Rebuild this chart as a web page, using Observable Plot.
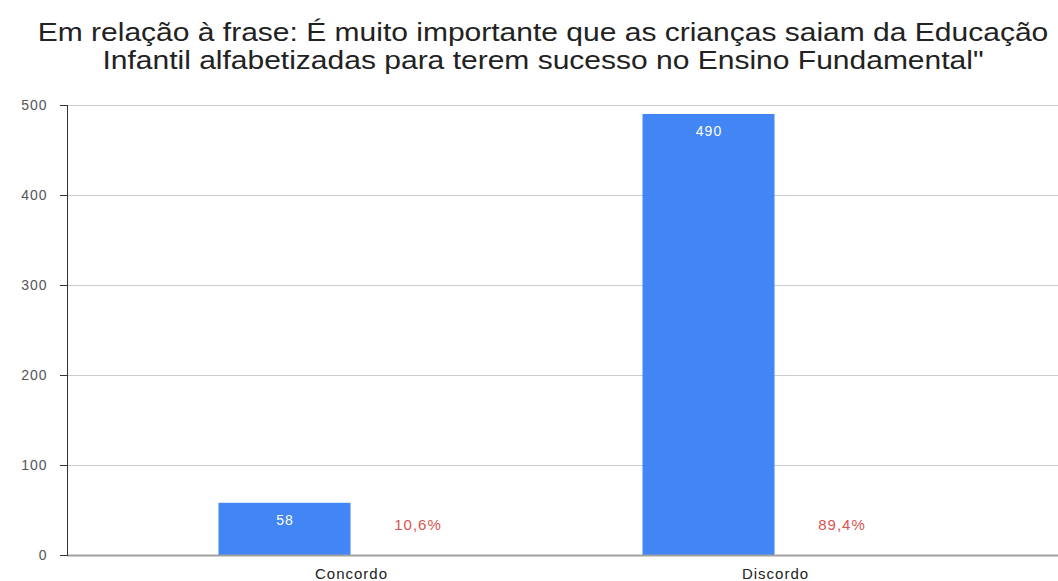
<!DOCTYPE html>
<html><head><meta charset="utf-8">
<script src="https://cdn.jsdelivr.net/npm/d3@7"></script>
<script src="https://cdn.jsdelivr.net/npm/@observablehq/plot@0.6"></script>
<style>
body{margin:0;background:#fff;font-family:Arial,"Liberation Sans",sans-serif;}
#title{height:80px;box-sizing:border-box;padding-top:18px;padding-left:28px;text-align:center;font-size:25px;line-height:28px;color:#222;white-space:nowrap;transform:scaleX(1.2);transform-origin:543px 0;}
#chart svg{display:block;}
</style></head><body>
<div id="title">Em relação à frase: É muito importante que as crianças saiam da Educação<br>Infantil alfabetizadas para terem sucesso no Ensino Fundamental"</div>
<div id="chart"></div>
<script>
const categories = ["Concordo", "Discordo"];
const counts = [58, 490];
const percentLabels = ["10,6%", "89,4%"];
const yTicks = [0, 100, 200, 300, 400, 500];

const data = categories.map((c, i) => ({category: c, count: counts[i], pct: percentLabels[i]}));

const chart = Plot.plot({
  width: 1058, height: 501,
  marginTop: 25, marginBottom: 26, marginLeft: 67, marginRight: 0,
  style: {fontFamily: 'Arial, "Liberation Sans", sans-serif', background: "#fff", overflow: "visible", letterSpacing: "1px"},
  x: {type: "band", domain: categories, paddingInner: 0, paddingOuter: 0.168, axis: null, label: null},
  y: {domain: [0, 500], axis: null, label: null},
  marks: [
    Plot.gridY(yTicks.filter(d => d > 0), {stroke: "#cccccc", strokeOpacity: 1}),
    Plot.barY(data, {x: "category", y: "count", fill: "#4285f4", insetLeft: 79.5, insetRight: 212.5}),
    Plot.ruleY([0], {stroke: "#a0a0a0", strokeWidth: 2}),
    Plot.frame({anchor: "left", stroke: "#333"}),
    Plot.axisY(yTicks, {tickSize: 7, tickPadding: 13, fontSize: 14, fill: "#555", stroke: "#333", label: null}),
    Plot.axisX({tickSize: 0, tickPadding: 13, fontSize: 15, fill: "#222", label: null}),
    Plot.text(data, {x: "category", y: "count", text: d => String(d.count), dx: -66.5, dy: 17, fill: "#fff", fontSize: 14}),
    Plot.text(data, {x: "category", y: 0, text: "pct", dx: 66.5, dy: -30, fill: "#d9534f", stroke: "#fff", strokeWidth: 3, fontSize: 15})
  ]
});
document.getElementById("chart").appendChild(chart);
</script>
</body></html>
